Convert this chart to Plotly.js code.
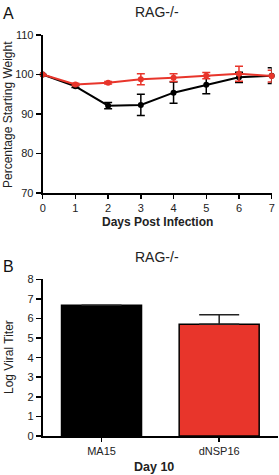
<!DOCTYPE html>
<html>
<head>
<meta charset="utf-8">
<script src="https://cdn.plot.ly/plotly-3.0.1.min.js"></script>
<style>
  html, body { margin: 0; padding: 0; background: #fff; }
  #chart { width: 279px; height: 475px; }
</style>
</head>
<body>
<div id="chart"></div>
<script>
// Panel A: body weight over time (% of starting weight)
const days = [0, 1, 2, 3, 4, 5, 6, 7];
const ma15Weight = [100, 97.0, 92.1, 92.3, 95.4, 97.4, 99.3, 99.7];
const ma15WeightErr = [0, 0.3, 0.8, 2.7, 2.7, 2.3, 1.3, 2.0];
const dnsp16Weight = [100, 97.5, 97.9, 98.8, 99.2, 99.7, 100.2, 99.6];
const dnsp16WeightErr = [0, 0.3, 0.3, 1.4, 1.0, 0.8, 1.9, 1.5];

// Panel B: viral titer at day 10
const strains = ['MA15', 'dNSP16'];
const titer = [6.68, 5.71];
const titerErr = [0, 0.48];

const BLACK = '#000000';
const RED = '#e8352b';
const FONT = 'Liberation Sans, Arial, sans-serif';
const W = 279, H = 475;
const px = x => x / W;
const py = y => 1 - y / H;

const traces = [
  {
    x: days, y: ma15Weight, xaxis: 'x', yaxis: 'y',
    type: 'scatter', mode: 'lines+markers', name: 'MA15',
    line: { color: BLACK, width: 2 },
    marker: { color: BLACK, size: 6 },
    error_y: { type: 'data', array: ma15WeightErr, visible: true,
               color: BLACK, thickness: 1.5, width: 4 },
    cliponaxis: false
  },
  {
    x: days, y: dnsp16Weight, xaxis: 'x', yaxis: 'y',
    type: 'scatter', mode: 'lines+markers', name: 'dNSP16',
    line: { color: RED, width: 2 },
    marker: { color: RED, size: 6 },
    error_y: { type: 'data', array: dnsp16WeightErr, visible: true,
               color: RED, thickness: 1.5, width: 4 },
    cliponaxis: false
  },
  {
    x: strains, y: titer, xaxis: 'x2', yaxis: 'y2',
    type: 'bar', width: 0.68,
    marker: { color: [BLACK, RED], line: { color: BLACK, width: 1.5 } },
    error_y: { type: 'data', symmetric: false, array: titerErr,
               arrayminus: [0, 0], visible: true,
               color: '#222', thickness: 1.5, width: 20 },
    cliponaxis: false
  }
];

const axisCommon = {
  showline: true, linecolor: BLACK, linewidth: 2,
  showgrid: false, zeroline: false,
  ticks: 'outside', ticklen: 5, tickwidth: 1.5, tickcolor: BLACK,
  tickfont: { family: FONT, size: 11, color: '#222' },
  automargin: false, fixedrange: true
};

const layout = {
  width: W, height: H,
  margin: { l: 0, r: 0, t: 0, b: 0 },
  paper_bgcolor: '#fff', plot_bgcolor: '#fff',
  showlegend: false,
  font: { family: FONT, color: '#222' },
  xaxis: Object.assign({}, axisCommon, {
    domain: [px(42.7), px(271.7)], range: [0, 7], dtick: 1, tick0: 0,
    ticklen: 4, anchor: 'y'
  }),
  yaxis: Object.assign({}, axisCommon, {
    domain: [py(193), py(35)], range: [70, 110], dtick: 10, tick0: 70,
    anchor: 'x'
  }),
  xaxis2: Object.assign({}, axisCommon, {
    domain: [px(42.7), px(278)], range: [-0.5, 1.5], type: 'category',
    ticklen: 4, anchor: 'y2'
  }),
  yaxis2: Object.assign({}, axisCommon, {
    domain: [py(436), py(279.3)], range: [0, 8], dtick: 1, tick0: 0,
    anchor: 'x2'
  }),
  annotations: [
    { text: 'A', x: px(1), y: py(13), xanchor: 'left', yanchor: 'middle',
      xref: 'paper', yref: 'paper', showarrow: false,
      font: { family: FONT, size: 16, color: '#111' } },
    { text: 'RAG-/-', x: px(157), y: py(12.5), xanchor: 'center', yanchor: 'middle',
      xref: 'paper', yref: 'paper', showarrow: false,
      font: { family: FONT, size: 14, color: '#222' } },
    { text: 'Percentage Starting Weight', x: px(8), y: py(115), textangle: -90,
      xanchor: 'center', yanchor: 'middle',
      xref: 'paper', yref: 'paper', showarrow: false,
      font: { family: FONT, size: 12, color: '#222' } },
    { text: '<b>Days Post Infection</b>', x: px(157), y: py(222),
      xanchor: 'center', yanchor: 'middle',
      xref: 'paper', yref: 'paper', showarrow: false,
      font: { family: FONT, size: 12, color: '#222' } },
    { text: 'B', x: px(1), y: py(266), xanchor: 'left', yanchor: 'middle',
      xref: 'paper', yref: 'paper', showarrow: false,
      font: { family: FONT, size: 16, color: '#111' } },
    { text: 'RAG-/-', x: px(157), y: py(257), xanchor: 'center', yanchor: 'middle',
      xref: 'paper', yref: 'paper', showarrow: false,
      font: { family: FONT, size: 14, color: '#222' } },
    { text: 'Log Viral Titer', x: px(9), y: py(357), textangle: -90,
      xanchor: 'center', yanchor: 'middle',
      xref: 'paper', yref: 'paper', showarrow: false,
      font: { family: FONT, size: 12, color: '#222' } },
    { text: '<b>Day 10</b>', x: px(154), y: py(467),
      xanchor: 'center', yanchor: 'middle',
      xref: 'paper', yref: 'paper', showarrow: false,
      font: { family: FONT, size: 12.5, color: '#222' } }
  ]
};

Plotly.newPlot('chart', traces, layout, { staticPlot: true, displayModeBar: false });
</script>
</body>
</html>
